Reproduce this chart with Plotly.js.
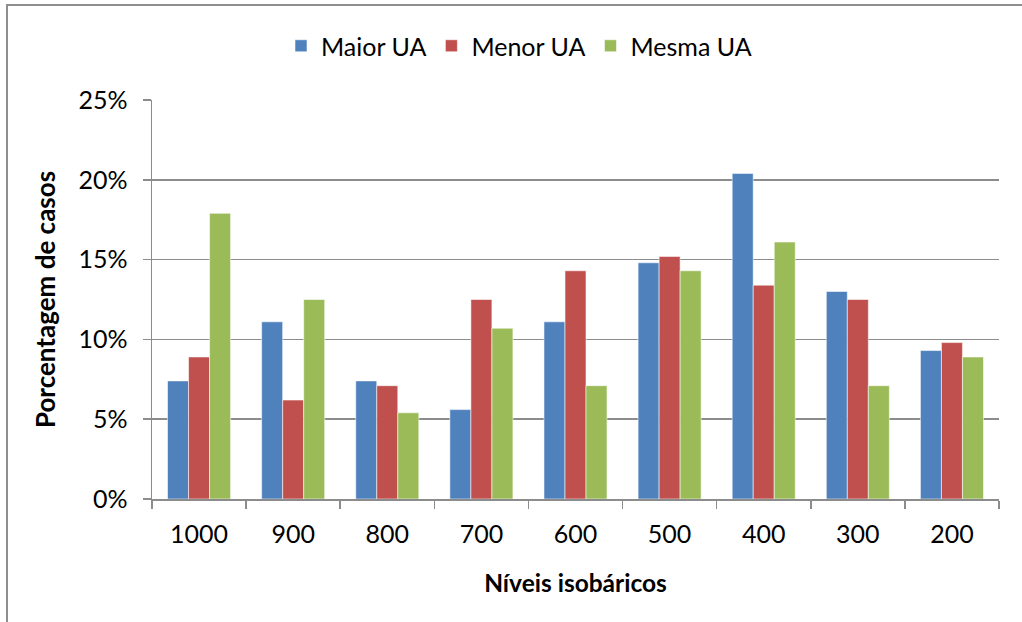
<!DOCTYPE html>
<html>
<head>
<meta charset="utf-8">
<script src="https://cdn.plot.ly/plotly-3.0.1.min.js"></script>
<style>
  html, body { margin: 0; padding: 0; background: #ffffff; }
  #chart { width: 1022px; height: 622px; }
</style>
</head>
<body>
<div id="chart"></div>
<script>
// Data (percent of cases)
var levels = ["1000", "900", "800", "700", "600", "500", "400", "300", "200"];
var seriesNames = ["Maior UA", "Menor UA", "Mesma UA"];
var maiorUA = [7.4, 11.1, 7.4, 5.6, 11.1, 14.8, 20.4, 13.0, 9.3];
var menorUA = [8.9, 6.2, 7.1, 12.5, 14.3, 15.2, 13.4, 12.5, 9.8];
var mesmaUA = [17.9, 12.5, 5.4, 10.7, 7.1, 14.3, 16.1, 7.1, 8.9];
var yTickVals = [0, 5, 10, 15, 20, 25];
var yTickText = ["0%", "5%", "10%", "15%", "20%", "25%"];

var colors = ["#4F81BD", "#C0504D", "#9BBB59"];
var values = [maiorUA, menorUA, mesmaUA];
var FONT = "Lato, 'Open Sans', sans-serif";
var GRID = "#8C8C8C";

var traces = values.map(function (v, i) {
  return {
    type: "bar",
    name: seriesNames[i],
    x: levels,
    y: v,
    marker: { color: colors[i], line: { color: "rgba(255,255,255,0.55)", width: 1 } },
    hoverinfo: "x+y+name"
  };
});

// plot area: x 152..999, y 100..499
var L = 152, R = 999, T = 100, B = 499, W = 1022, H = 622;
function px(x) { return (x - L) / (R - L); }
function py(y) { return (B - y) / (B - T); }

var layout = {
  width: W,
  height: H,
  margin: { l: L, r: W - R, t: T, b: H - B, pad: 0 },
  paper_bgcolor: "#ffffff",
  plot_bgcolor: "#ffffff",
  font: { family: FONT, size: 25, color: "#000000" },
  barmode: "group",
  bargap: 0.33,
  bargroupgap: 0,
  showlegend: true,
  legend: {
    orientation: "h",
    xref: "container",
    yref: "container",
    x: 519 / W,
    xanchor: "center",
    y: 1 - 46 / H,
    yanchor: "middle",
    font: { family: FONT, size: 25, color: "#000000" },
    itemclick: false,
    traceorder: "normal",
    bgcolor: "rgba(0,0,0,0)"
  },
  xaxis: {
    type: "category",
    tickson: "boundaries",
    ticks: "outside",
    ticklen: 8,
    tickwidth: 1.5,
    tickcolor: GRID,
    showline: true,
    linecolor: GRID,
    linewidth: 1.5,
    showgrid: false,
    zeroline: false,
    ticklabelstandoff: 12,
    tickfont: { family: FONT, size: 25, color: "#000000" },
    title: {
      text: "<b>Níveis isobáricos</b>",
      font: { family: FONT, size: 24.5, color: "#000000" },
      standoff: 28
    },
    automargin: false,
    fixedrange: true
  },
  yaxis: {
    range: [0, 25],
    tickvals: yTickVals,
    ticktext: yTickText,
    ticks: "outside",
    ticklen: 8,
    tickwidth: 1.5,
    tickcolor: GRID,
    showline: true,
    linecolor: GRID,
    linewidth: 1.5,
    showgrid: true,
    gridcolor: GRID,
    gridwidth: 1.5,
    zeroline: false,
    ticklabelstandoff: 10,
    tickfont: { family: FONT, size: 25, color: "#000000" },
    title: {
      text: "<b>Porcentagem de casos</b>",
      font: { family: FONT, size: 26, color: "#000000" },
      standoff: 15
    },
    automargin: false,
    fixedrange: true
  },
  shapes: [
    {
      type: "path",
      xref: "paper",
      yref: "paper",
      path: "M " + px(7) + "," + py(640) + " L " + px(7) + "," + py(5) + " L " + px(1040) + "," + py(5),
      line: { color: "#8E8E8E", width: 2 },
      layer: "below"
    }
  ]
};

Plotly.newPlot("chart", traces, layout, { displayModeBar: false, staticPlot: true });
</script>
</body>
</html>
